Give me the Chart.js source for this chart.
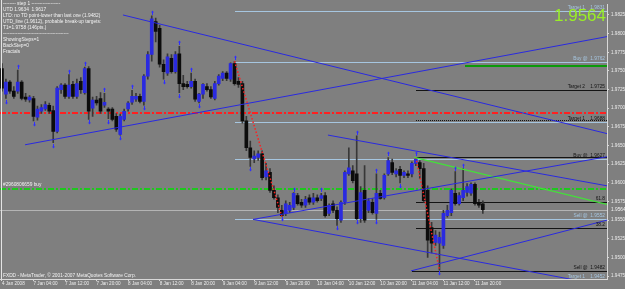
<!DOCTYPE html>
<html><head><meta charset="utf-8">
<script src="https://cdn.jsdelivr.net/npm/chart.js@4.4.1/dist/chart.umd.min.js"></script>
<style>html,body{margin:0;padding:0;background:#7f7f7f;overflow:hidden}#wrap{width:625px;height:289px;position:relative}</style>
</head><body><div id="wrap"><canvas id="c"></canvas></div>
<script>
// ---- data (hourly GBPUSD candles, index 0 = 4 Jan 20:00) ----
const tickIndex = [0,8,16,24,32,40,48,56,64,72,80,88,96,104,112,120];
const tickLabels = ['4 Jan 2008','7 Jan 04:00','7 Jan 12:00','7 Jan 20:00','8 Jan 04:00','8 Jan 12:00','8 Jan 20:00','9 Jan 04:00','9 Jan 12:00','9 Jan 20:00','10 Jan 04:00','10 Jan 12:00','10 Jan 20:00','11 Jan 04:00','11 Jan 12:00','11 Jan 20:00'];
const priceTicks = [1.9475,1.9500,1.9525,1.9550,1.9575,1.9600,1.9625,1.9650,1.9675,1.9700,1.9725,1.9750,1.9775,1.9800,1.9825];
const open = [
1.9753,1.9719,1.9735,1.9723,1.9723,1.9735,1.9715,1.9711,1.9713,1.9688,
1.9696,1.9699,1.9704,1.9697,1.9669,1.9725,1.9731,1.9716,1.9732,1.9716,
1.9736,1.9721,1.9753,1.9700,1.9711,1.9713,1.9704,1.9699,1.9699,1.9689,
1.9665,1.9685,1.9699,1.9708,1.9712,1.9716,1.9709,1.9743,1.9772,1.9816,
1.9807,1.9759,1.9747,1.9767,1.9749,1.9773,1.9733,1.9732,1.9729,1.9736,
1.9709,1.9719,1.9729,1.9725,1.9713,1.9733,1.9740,1.9747,1.9739,1.9760,
1.9736,1.9733,1.9683,1.9647,1.9632,1.9634,1.9639,1.9608,1.9614,1.9590,
1.9580,1.9563,1.9559,1.9563,1.9567,1.9583,1.9574,1.9570,1.9580,1.9574,
1.9580,1.9579,1.9583,1.9559,1.9572,1.9563,1.9550,1.9574,1.9612,1.9616,
1.9612,1.9552,1.9590,1.9563,1.9574,1.9559,1.9586,1.9580,1.9612,1.9627,
1.9612,1.9618,1.9610,1.9612,1.9612,1.9626,1.9627,1.9619,1.9590,1.9540,
1.9520,1.9519,1.9516,1.9556,1.9560,1.9586,1.9572,1.9580,1.9587,1.9586,
1.9598,1.9574,1.9572];
const high = [
1.9760,1.9739,1.9737,1.9729,1.9751,1.9737,1.9720,1.9717,1.9716,1.9703,
1.9705,1.9709,1.9707,1.9703,1.9729,1.9733,1.9733,1.9745,1.9736,1.9739,
1.9741,1.9755,1.9756,1.9715,1.9716,1.9721,1.9720,1.9701,1.9701,1.9693,
1.9692,1.9699,1.9709,1.9724,1.9720,1.9719,1.9745,1.9776,1.9824,1.9821,
1.9811,1.9765,1.9773,1.9772,1.9776,1.9783,1.9744,1.9736,1.9747,1.9739,
1.9720,1.9733,1.9733,1.9729,1.9736,1.9745,1.9749,1.9749,1.9761,1.9763,
1.9741,1.9736,1.9689,1.9656,1.9643,1.9643,1.9643,1.9626,1.9619,1.9596,
1.9584,1.9570,1.9576,1.9574,1.9587,1.9586,1.9578,1.9582,1.9584,1.9586,
1.9584,1.9586,1.9587,1.9572,1.9576,1.9568,1.9576,1.9616,1.9647,1.9623,
1.9663,1.9595,1.9623,1.9579,1.9579,1.9612,1.9590,1.9612,1.9634,1.9632,
1.9619,1.9622,1.9616,1.9616,1.9628,1.9634,1.9630,1.9626,1.9596,1.9547,
1.9536,1.9534,1.9563,1.9570,1.9592,1.9615,1.9587,1.9619,1.9599,1.9600,
1.9600,1.9578,1.9576];
const low = [
1.9723,1.9713,1.9720,1.9713,1.9720,1.9711,1.9709,1.9708,1.9683,1.9684,
1.9693,1.9697,1.9693,1.9654,1.9667,1.9720,1.9713,1.9713,1.9713,1.9713,
1.9720,1.9719,1.9685,1.9689,1.9704,1.9693,1.9701,1.9686,1.9683,1.9669,
1.9664,1.9683,1.9696,1.9705,1.9709,1.9707,1.9704,1.9739,1.9763,1.9789,
1.9755,1.9739,1.9744,1.9747,1.9747,1.9721,1.9725,1.9727,1.9727,1.9709,
1.9707,1.9713,1.9723,1.9713,1.9711,1.9731,1.9737,1.9737,1.9736,1.9731,
1.9728,1.9680,1.9643,1.9622,1.9627,1.9630,1.9604,1.9604,1.9587,1.9578,
1.9560,1.9555,1.9556,1.9560,1.9564,1.9570,1.9567,1.9567,1.9571,1.9571,
1.9574,1.9576,1.9554,1.9556,1.9560,1.9543,1.9547,1.9571,1.9610,1.9600,
1.9551,1.9547,1.9547,1.9560,1.9558,1.9551,1.9578,1.9578,1.9610,1.9611,
1.9608,1.9600,1.9607,1.9607,1.9608,1.9623,1.9606,1.9574,1.9500,1.9506,
1.9516,1.9483,1.9512,1.9554,1.9556,1.9570,1.9570,1.9576,1.9582,1.9583,
1.9570,1.9567,1.9559];
const close = [
1.9727,1.9735,1.9723,1.9716,1.9735,1.9713,1.9712,1.9715,1.9689,1.9699,
1.9701,1.9705,1.9696,1.9669,1.9727,1.9731,1.9716,1.9731,1.9716,1.9733,
1.9725,1.9753,1.9696,1.9711,1.9707,1.9696,1.9708,1.9696,1.9685,1.9672,
1.9689,1.9696,1.9707,1.9716,1.9716,1.9709,1.9743,1.9772,1.9820,1.9803,
1.9759,1.9749,1.9769,1.9749,1.9772,1.9733,1.9729,1.9729,1.9736,1.9712,
1.9719,1.9732,1.9725,1.9715,1.9733,1.9743,1.9747,1.9740,1.9760,1.9733,
1.9732,1.9683,1.9647,1.9634,1.9636,1.9639,1.9607,1.9616,1.9590,1.9580,
1.9567,1.9556,1.9572,1.9570,1.9586,1.9572,1.9570,1.9578,1.9574,1.9580,
1.9576,1.9583,1.9556,1.9570,1.9563,1.9552,1.9574,1.9614,1.9620,1.9603,
1.9552,1.9587,1.9550,1.9576,1.9560,1.9586,1.9579,1.9610,1.9630,1.9614,
1.9616,1.9610,1.9614,1.9610,1.9626,1.9632,1.9619,1.9576,1.9523,1.9519,
1.9530,1.9527,1.9559,1.9563,1.9590,1.9572,1.9583,1.9590,1.9595,1.9598,
1.9572,1.9570,1.9564];
const fractalUp = [4,17,21,26,33,38,45,48,59,74,81,90,95,98,105,115,117];
const fractalDown = [1,8,13,22,27,30,36,41,45,50,63,71,85,90,95,101,111];
const lastPrice = 1.9564;
const lastSlot = 153.5;

const BLUE='#2a2ae0', LB='#a6c6e0', BLK='#141414', RED='#ff2020';
// trend lines: [fromIndex, fromPrice, toIndex, toPrice]
const trendLines = [
  {p:[30.7,1.9825,lastSlot,1.9666], c:BLUE},
  {p:[5.85,1.9651,lastSlot,1.9796], c:BLUE},
  {p:[82.7,1.9664,lastSlot,1.9596], c:BLUE},
  {p:[63.7,1.9551,147.1,1.9468], c:BLUE},
  {p:[63.7,1.9551,lastSlot,1.9635], c:BLUE},
  {p:[103.8,1.9482,lastSlot,1.9550], c:BLUE},
  {p:[104.6,1.9634,lastSlot,1.9571], c:'#44e03a', w:1.3},
  {p:[59,1.9763,71,1.9555], c:RED, d:[1.5,2], w:1.5},
  {p:[105,1.9634,111,1.9483], c:RED, d:[1.5,2], w:1.5}
];
// horizontal levels: price, start index, colour, width, dash, label, label colour
const levels = [
  {y:1.9831, s:59, c:LB, t:'Target 1    1.9831', tc:LB},
  {y:1.9762, s:59, c:LB, t:'Buy @  1.9762', tc:LB},
  {y:1.9756, s:117.6, c:'#0a9a0a', w:2},
  {y:1.9725, s:105, c:BLK, t:'Target 2    1.9725', tc:BLK},
  {y:1.9693, s:-0.5, c:RED, d:[6,2,2,2], w:2},
  {y:1.9684, s:105, c:BLK, d:[1,1]},
  {y:1.9682, s:59, c:LB, t:'Target 1    1.9688', tc:BLK},
  {y:1.9634, s:105, c:BLK},
  {y:1.9632, s:59, c:LB, t:'Buy @  1.9627', tc:BLK},
  {y:1.9592, s:-0.5, c:'#1ec81e', d:[6,2,2,2], w:2},
  {y:1.9574, s:105, c:BLK, t:'61.8', tc:BLK},
  {y:lastPrice, s:-0.5, c:'#b4b4b4'},
  {y:1.9551, s:59, c:LB, t:'Sell @  1.9552', tc:LB},
  {y:1.9540, s:105, c:BLK, t:'38.2', tc:BLK},
  {y:1.9482, s:104, c:BLK, t:'Sell @  1.9482', tc:BLK}
];
const infoLines = ['-------- step 1 ------------------','UTD 1.9634  1.9617','LTD: no TD point-lower than last one (1.9482)','UTD_line (1.9612), probable break-up targets:','T1=1.9758 (146pts.)','-----------------------------------------','ShowingSteps=1','BackStep=0','Fractals'];

// ---- datasets ----
const idx = open.map((_, i) => i);
const datasets = [];
datasets.push({type:'bar', order:3, data: idx.map(i => ({x:i, y:[low[i], high[i]]})),
  backgroundColor:'#383838', barThickness:1, borderWidth:0, grouped:false});
datasets.push({type:'bar', order:2, data: idx.map(i => ({x:i, y:[open[i], close[i]]})),
  backgroundColor: idx.map(i => close[i] >= open[i] ? BLUE : '#0c0c0c'),
  barThickness:3, minBarLength:1, borderWidth:0, grouped:false});
trendLines.forEach(t => datasets.push({type:'line', order:0, data:[{x:t.p[0],y:t.p[1]},{x:t.p[2],y:t.p[3]}],
  borderColor:t.c, borderWidth:t.w||1, borderDash:t.d||[], pointRadius:0, fill:false}));

const FONT = '"Liberation Sans", Arial, sans-serif';
const levelPlugin = {
  id:'levels',
  beforeDatasetsDraw(chart){
    const ctx = chart.ctx, xs = chart.scales.x, ys = chart.scales.y, ca = chart.chartArea;
    ctx.save();
    ctx.beginPath(); ctx.rect(ca.left, ca.top, ca.right - ca.left, ca.bottom - ca.top); ctx.clip();
    levels.forEach(l => {
      const w = l.w || 1;
      const y = Math.round(ys.getPixelForValue(l.y)) + (w % 2 ? 0.5 : 0);
      ctx.strokeStyle = l.c; ctx.lineWidth = w; ctx.setLineDash(l.d || []);
      ctx.beginPath(); ctx.moveTo(Math.round(xs.getPixelForValue(l.s)), y); ctx.lineTo(ca.right, y); ctx.stroke();
    });
    ctx.restore();
  }
};
const overlay = {
  id:'overlay',
  afterDatasetsDraw(chart){
    const ctx = chart.ctx, xs = chart.scales.x, ys = chart.scales.y, ca = chart.chartArea;
    ctx.save();
    // fractal arrows
    ctx.strokeStyle = '#3030ff'; ctx.fillStyle = '#3030ff'; ctx.lineWidth = 1;
    fractalUp.forEach(i => {
      const x = Math.round(xs.getPixelForValue(i)) + 0.5, y = Math.round(ys.getPixelForValue(high[i]) - 4);
      ctx.beginPath(); ctx.moveTo(x, y); ctx.lineTo(x, y + 3); ctx.stroke();
      ctx.beginPath(); ctx.moveTo(x - 1.5, y + 0.5); ctx.lineTo(x, y - 1.5); ctx.lineTo(x + 1.5, y + 0.5); ctx.closePath(); ctx.fill();
    });
    fractalDown.forEach(i => {
      const x = Math.round(xs.getPixelForValue(i)) + 0.5, y = Math.round(ys.getPixelForValue(low[i]) + 4);
      ctx.beginPath(); ctx.moveTo(x, y - 3); ctx.lineTo(x, y); ctx.stroke();
      ctx.beginPath(); ctx.moveTo(x - 1.5, y - 0.5); ctx.lineTo(x, y + 1.5); ctx.lineTo(x + 1.5, y - 0.5); ctx.closePath(); ctx.fill();
    });
    // level labels
    ctx.font = '4.8px ' + FONT; ctx.textAlign = 'right'; ctx.textBaseline = 'bottom';
    levels.forEach(l => { if (l.t) { ctx.fillStyle = l.tc; ctx.fillText(l.t, ca.right - 2, Math.round(ys.getPixelForValue(l.y)) - 0.5); } });
    ctx.fillStyle = LB; ctx.fillText('Target 1    1.9452', ca.right - 2, ys.getPixelForValue(1.9471));
    // left texts
    ctx.textAlign = 'left'; ctx.textBaseline = 'middle'; ctx.fillStyle = '#f2f2f2';
    infoLines.forEach((t, k) => ctx.fillText(t, 3, 3.5 + k * 6.05));
    ctx.textBaseline = 'bottom';
    ctx.fillText('#2960806659 buy', 3, ys.getPixelForValue(1.9592) - 1.5);
    ctx.textBaseline = 'middle';
    ctx.fillText('FXDD - MetaTrader, \u00a9 2001-2007 MetaQuotes Software Corp.', 3, 276);
    // current price on axis
    ctx.fillText(lastPrice.toFixed(4), ca.right + 4, ys.getPixelForValue(lastPrice));
    // big price
    ctx.fillStyle = '#9aef26'; ctx.textAlign = 'right'; ctx.textBaseline = 'alphabetic';
    ctx.font = '17px ' + FONT; ctx.fillText(lastPrice.toFixed(4), ca.right - 1, 21);
    // left border
    ctx.strokeStyle = '#e4e4e4'; ctx.beginPath(); ctx.moveTo(1.5, 0); ctx.lineTo(1.5, ca.bottom); ctx.stroke();
    ctx.restore();
  }
};

new Chart(document.getElementById('c'), {
  type:'bar',
  data:{datasets},
  options:{
    responsive:true, maintainAspectRatio:false, animation:false, devicePixelRatio:1, events:[],
    layout:{padding:{top:3, left:0, right:0, bottom:0}},
    plugins:{legend:{display:false}, tooltip:{enabled:false}},
    scales:{
      x:{type:'linear', offset:false, min:-0.5, max:lastSlot,
        afterBuildTicks:s => { s.ticks = tickIndex.map(v => ({value:v})); },
        afterFit:s => { s.height = 10; },
        grid:{offset:false, drawOnChartArea:false, drawTicks:true, tickLength:2, color:'#d8d8d8'},
        border:{display:true, color:'#d8d8d8'},
        ticks:{autoSkip:false, maxRotation:0, align:'start', padding:0, color:'#ececec',
          font:{size:4.6, family:FONT}, callback:v => tickLabels[tickIndex.indexOf(v)]}},
      y:{type:'linear', position:'right', min:1.94711, max:1.98387,
        afterBuildTicks:s => { s.ticks = priceTicks.map(v => ({value:v})); },
        afterFit:s => { s.width = 18; },
        grid:{drawOnChartArea:false, drawTicks:true, tickLength:2, color:'#d8d8d8'},
        border:{display:true, color:'#d8d8d8'},
        ticks:{autoSkip:false, padding:2, color:'#ececec', font:{size:4.6, family:FONT},
          callback:v => v.toFixed(4)}}
    }
  },
  plugins:[levelPlugin, overlay]
});
</script></body></html>
